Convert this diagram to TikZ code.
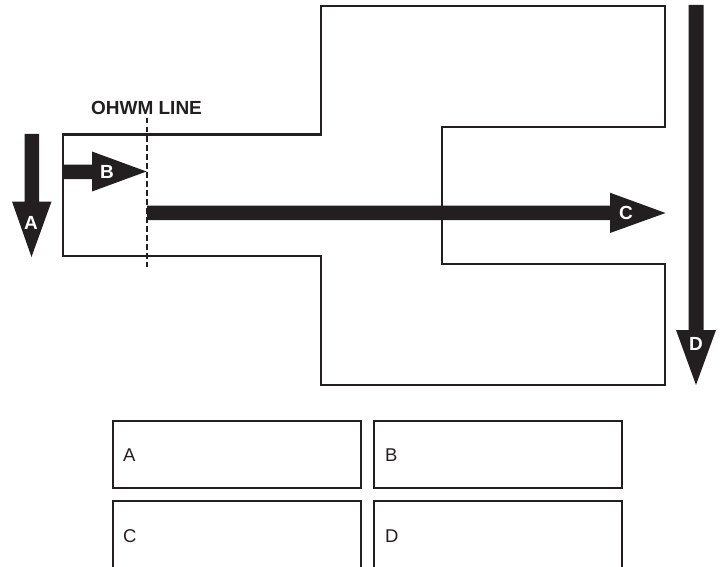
\documentclass[tikz,border=0pt]{standalone}
\usepackage{fontspec}
\setmainfont{Liberation Sans}
\definecolor{ink}{HTML}{231F20}
\tikzset{
  outline/.style={draw=ink,line width=2pt,line join=miter},
  arrowfill/.style={fill=ink,draw=none},
  arrowlabel/.style={text=white,font=\fontsize{19}{22}\selectfont\bfseries,inner sep=0pt},
  legendbox/.style={draw=ink,line width=2pt,minimum width=248pt,minimum height=67pt,inner sep=0pt,outer sep=0pt},
  legendtext/.style={text=ink,font=\fontsize{18.5}{22}\selectfont,inner sep=0pt,anchor=west},
}
\begin{document}
\begin{tikzpicture}[x=1pt,y=-1pt]
\useasboundingbox (0,0) rectangle (725,567);
\clip (0,0) rectangle (725,567);
% outline
\draw[outline] (62.5,134.5) -- (320.5,134.5) -- (320.5,6) -- (665,6) -- (665,127) -- (442,127) -- (442,264) -- (665,264) -- (665,385) -- (320.5,385) -- (320.5,256) -- (62.5,256) -- cycle;
% dashed line
\coordinate (dashtop) at (147,118);
\coordinate (dashbot) at (147,267);
\draw[draw=ink,line width=1.9pt,dash pattern=on 5.5pt off 3.5pt] (dashtop) -- (dashbot);
\node[text=ink,font=\fontsize{19}{22}\selectfont\bfseries,inner sep=0pt] (ohwm) at (146.5,107.5) {OHWM LINE};
% arrows
\fill[arrowfill] (24.5,134) -- (39,134) -- (39,201.5) -- (51.5,201.5) -- (31.5,257) -- (12,201.5) -- (24.5,201.5) -- cycle;
\fill[arrowfill] (62,164.5) -- (92,164.5) -- (92,151.5) -- (146.5,171.5) -- (92,191.5) -- (92,179) -- (62,179) -- cycle;
\fill[arrowfill] (147,205.5) -- (610,205.5) -- (610,192.7) -- (665.5,213) -- (610,233) -- (610,220) -- (147,220) -- cycle;
\fill[arrowfill] (688.5,5) -- (703.5,5) -- (703.5,330) -- (716,330) -- (696,385) -- (676,330) -- (688.5,330) -- cycle;
\node[arrowlabel] (la) at (31,223) {A};
\node[arrowlabel] (lb) at (107,171.5) {B};
\node[arrowlabel] (lc) at (626,213) {C};
\node[arrowlabel] (ld) at (696,344) {D};
% legend
\node[legendbox] (boxa) at (236.5,454) {};
\node[legendbox] (boxb) at (498,454) {};
\draw[outline] (112.5,580) -- (112.5,501) -- (360.5,501) -- (360.5,580);
\draw[outline] (374,580) -- (374,501) -- (622,501) -- (622,580);
\node[legendtext] (ta) at (123,455) {A};
\node[legendtext] (tb) at (385,455) {B};
\node[legendtext] (tc) at (123,536) {C};
\node[legendtext] (td) at (385,536) {D};
\end{tikzpicture}
\end{document}
